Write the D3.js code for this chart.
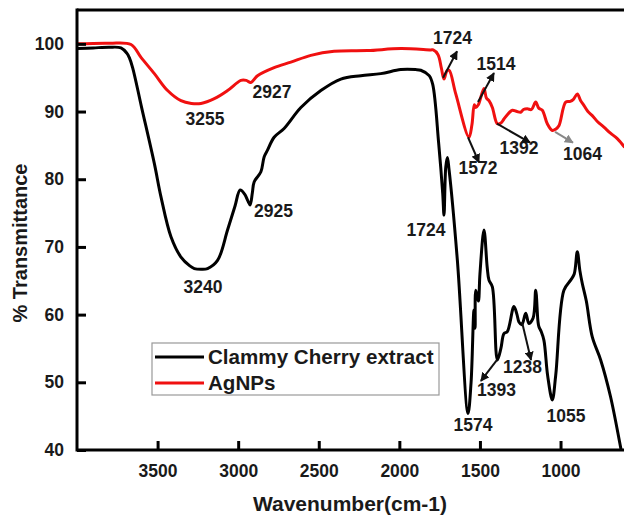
<!DOCTYPE html>
<html><head><meta charset="utf-8">
<script src="https://cdn.jsdelivr.net/npm/d3@7"></script>
<style>body{margin:0;background:#fff}svg{display:block}text{font-family:"Liberation Sans",Arial,sans-serif;font-weight:bold;fill:#1a1a1a}</style>
</head><body>
<script>
// ---- data ----
const extractWavenumber = [4000,3900,3800,3727,3690,3676,3655,3600,3520,3479,3417,3355,3300,3272,3230,3190,3128,3066,3020,2988,2960,2940,2926,2912,2901,2859,2839,2818,2777,2715,2611,2487,2363,2239,2115,1991,1900,1867,1815,1793,1756,1731,1723,1712,1702,1692,1640,1574,1555,1537,1530,1526,1510,1500,1475,1455,1444,1423,1392,1370,1351,1330,1289,1270,1258,1240,1216,1196,1170,1154,1140,1134,1120,1103,1080,1051,1030,979,937,915,896,880,865,840,803,751,690,628,600];
const extractTrans      = [99.3,99.4,99.5,99.4,98.6,98.0,96.5,90.7,82.3,77.4,71.5,68.5,67.2,66.8,66.7,66.8,68.0,72.5,76.0,78.4,77.8,76.8,76.2,78.0,79.6,81.1,83.3,84.3,86.2,87.5,90.6,93.1,94.8,95.3,95.6,96.2,96.2,96.1,95.3,94.0,85.3,77.9,74.7,81.8,83.2,81.5,68.0,45.4,50.0,60.7,58.0,63.6,62.0,66.0,72.5,67.0,65.1,64.1,53.3,55.0,57.2,57.5,61.2,60.0,58.9,58.5,60.2,58.7,59.5,63.6,59.0,58.2,57.5,56.2,51.0,47.4,51.0,63.6,65.1,66.0,69.3,66.5,64.6,62.0,56.7,53.3,47.9,40.5,37.0];

const agWavenumber = [4000,3800,3665,3603,3520,3438,3355,3290,3231,3148,3066,2983,2950,2921,2880,2777,2673,2549,2405,2198,1991,1805,1790,1760,1740,1723,1705,1691,1650,1568,1550,1535,1526,1510,1475,1460,1444,1423,1392,1370,1351,1320,1299,1270,1247,1230,1206,1180,1154,1135,1113,1082,1051,1030,1010,968,940,920,896,875,855,830,803,770,731,690,648,602];
const agTrans      = [100.0,100.1,99.9,98.0,95.6,93.1,91.6,91.2,91.2,91.9,93.1,94.6,94.6,94.3,95.3,96.5,97.3,98.3,98.9,99.0,99.3,99.1,99.1,98.4,96.5,94.8,96.0,96.1,92.6,86.2,88.0,91.0,90.6,91.0,93.4,92.0,91.6,90.6,88.2,88.3,88.9,89.8,90.2,90.0,89.9,90.3,90.4,90.3,91.4,90.5,90.2,88.2,87.2,87.4,87.9,91.4,91.5,91.8,92.6,91.6,90.9,90.0,89.4,88.5,87.7,86.8,86.0,84.7];

const seriesNames = ["Clammy Cherry extract", "AgNPs"];
const xTicks = [3500,3000,2500,2000,1500,1000];
const yTicks = [40,50,60,70,80,90,100];

// annotation labels (text, anchor wavenumber, anchor %T)
const labelText = ["3255","2927","2925","3240","1724","1724","1514","1572","1392","1064","1393","1238","1574","1055"];
const labelW    = [3206,2790,2781,3218,1835,1670,1400,1512,1258,864,1397,1236,1543,966];
const labelT    = [88.0,92.0,74.4,63.2,71.6,100.0,96.1,80.8,83.8,82.8,48.0,51.4,42.8,44.1];
// arrows (from wavenumber/%T to wavenumber/%T)
const arrowW1 = [1729,1512,1574,1394,1034,1394,1239];
const arrowT1 = [95.0,91.4,86.2,88.2,87.0,53.3,58.9];
const arrowW2 = [1642,1413,1506,1189,923,1494,1183];
const arrowT2 = [98.9,95.7,82.5,85.4,85.4,50.2,53.3];
const arrowGray = [false,false,false,false,true,false,false];

// ---- drawing ----
(function(){
const W = 624, H = 517;
const mL = 77, mR = 625, mT = 10, mB = 450;
const svg = d3.select("body").append("svg").attr("width", W).attr("height", H);

const x = d3.scaleLinear().domain([4000, 600]).range([mL, mR]);
const y = d3.scaleLinear().domain([40, 105]).range([mB, mT]);

const defs = svg.append("defs");
defs.append("clipPath").attr("id","clip")
  .append("rect").attr("x", mL).attr("y", mT).attr("width", mR-mL).attr("height", mB-mT);
["#111","#888"].forEach((c,i)=>{
  defs.append("marker").attr("id","ah"+i).attr("viewBox","0 0 10 10").attr("refX",9).attr("refY",5)
    .attr("markerWidth",9).attr("markerHeight",9).attr("markerUnits","userSpaceOnUse").attr("orient","auto")
    .append("path").attr("d","M0,0L10,5L0,10Z").attr("fill",c);
});

const line = d3.line().x(d=>x(d[0])).y(d=>y(d[1])).curve(d3.curveCatmullRom.alpha(0.5));
const g = svg.append("g").attr("clip-path","url(#clip)");
g.append("path").datum(extractWavenumber.map((w,i)=>[w,extractTrans[i]]))
  .attr("d", line).attr("fill","none").attr("stroke","#000").attr("stroke-width",3).attr("stroke-linejoin","round");
g.append("path").datum(agWavenumber.map((w,i)=>[w,agTrans[i]]))
  .attr("d", line).attr("fill","none").attr("stroke","#f01010").attr("stroke-width",3).attr("stroke-linejoin","round");

// axes
const xAxis = svg.append("g").attr("transform",`translate(0,${mB})`)
  .call(d3.axisBottom(x).tickValues(xTicks).tickFormat(d3.format("d")).tickSizeInner(-9).tickSizeOuter(0).tickPadding(14));
const yAxis = svg.append("g").attr("transform",`translate(${mL},0)`)
  .call(d3.axisLeft(y).tickValues(yTicks).tickFormat(d3.format("d")).tickSizeInner(-9).tickSizeOuter(0).tickPadding(13));
[xAxis,yAxis].forEach(a=>{
  a.select(".domain").remove();
  a.selectAll(".tick line").attr("stroke","#000").attr("stroke-width",3);
  a.selectAll(".tick text").style("font-size","17.5px").attr("fill","#1a1a1a");
});
xAxis.selectAll(".tick text").attr("dy","0.72em");
// frame lines
svg.append("line").attr("x1",mL).attr("x2",W).attr("y1",mB).attr("y2",mB).attr("stroke","#000").attr("stroke-width",3);
svg.append("line").attr("x1",mL).attr("x2",W).attr("y1",mT).attr("y2",mT).attr("stroke","#000").attr("stroke-width",3);
svg.append("line").attr("x1",mL).attr("x2",mL).attr("y1",mT-1.5).attr("y2",mB+1.5).attr("stroke","#000").attr("stroke-width",3);

// titles
svg.append("text").attr("x",350).attr("y",511).attr("text-anchor","middle").style("font-size","21px").text("Wavenumber(cm-1)");
svg.append("text").attr("transform","translate(27,243) rotate(-90)").attr("text-anchor","middle").style("font-size","20px").text("% Transmittance");

// annotations
labelText.forEach((t,i)=>{
  svg.append("text").attr("x",x(labelW[i])).attr("y",y(labelT[i])).attr("text-anchor","middle").style("font-size","17.5px").text(t);
});
arrowW1.forEach((w,i)=>{
  svg.append("line").attr("x1",x(w)).attr("y1",y(arrowT1[i])).attr("x2",x(arrowW2[i])).attr("y2",y(arrowT2[i]))
    .attr("stroke",arrowGray[i]?"#888":"#111").attr("stroke-width",2)
    .attr("marker-end",`url(#ah${arrowGray[i]?1:0})`);
});

// legend
const lg = svg.append("g");
lg.append("rect").attr("x",152).attr("y",343).attr("width",287).attr("height",52).attr("fill","#fff").attr("stroke","#999").attr("stroke-width",1.2);
const colors = ["#000","#f01010"];
seriesNames.forEach((n,i)=>{
  const yy = 357 + i*26;
  lg.append("line").attr("x1",155).attr("x2",204).attr("y1",yy).attr("y2",yy).attr("stroke",colors[i]).attr("stroke-width",3);
  lg.append("text").attr("x",208).attr("y",yy).attr("dy","0.36em").style("font-size","20.6px").text(n);
});
})();
</script>
</body></html>
